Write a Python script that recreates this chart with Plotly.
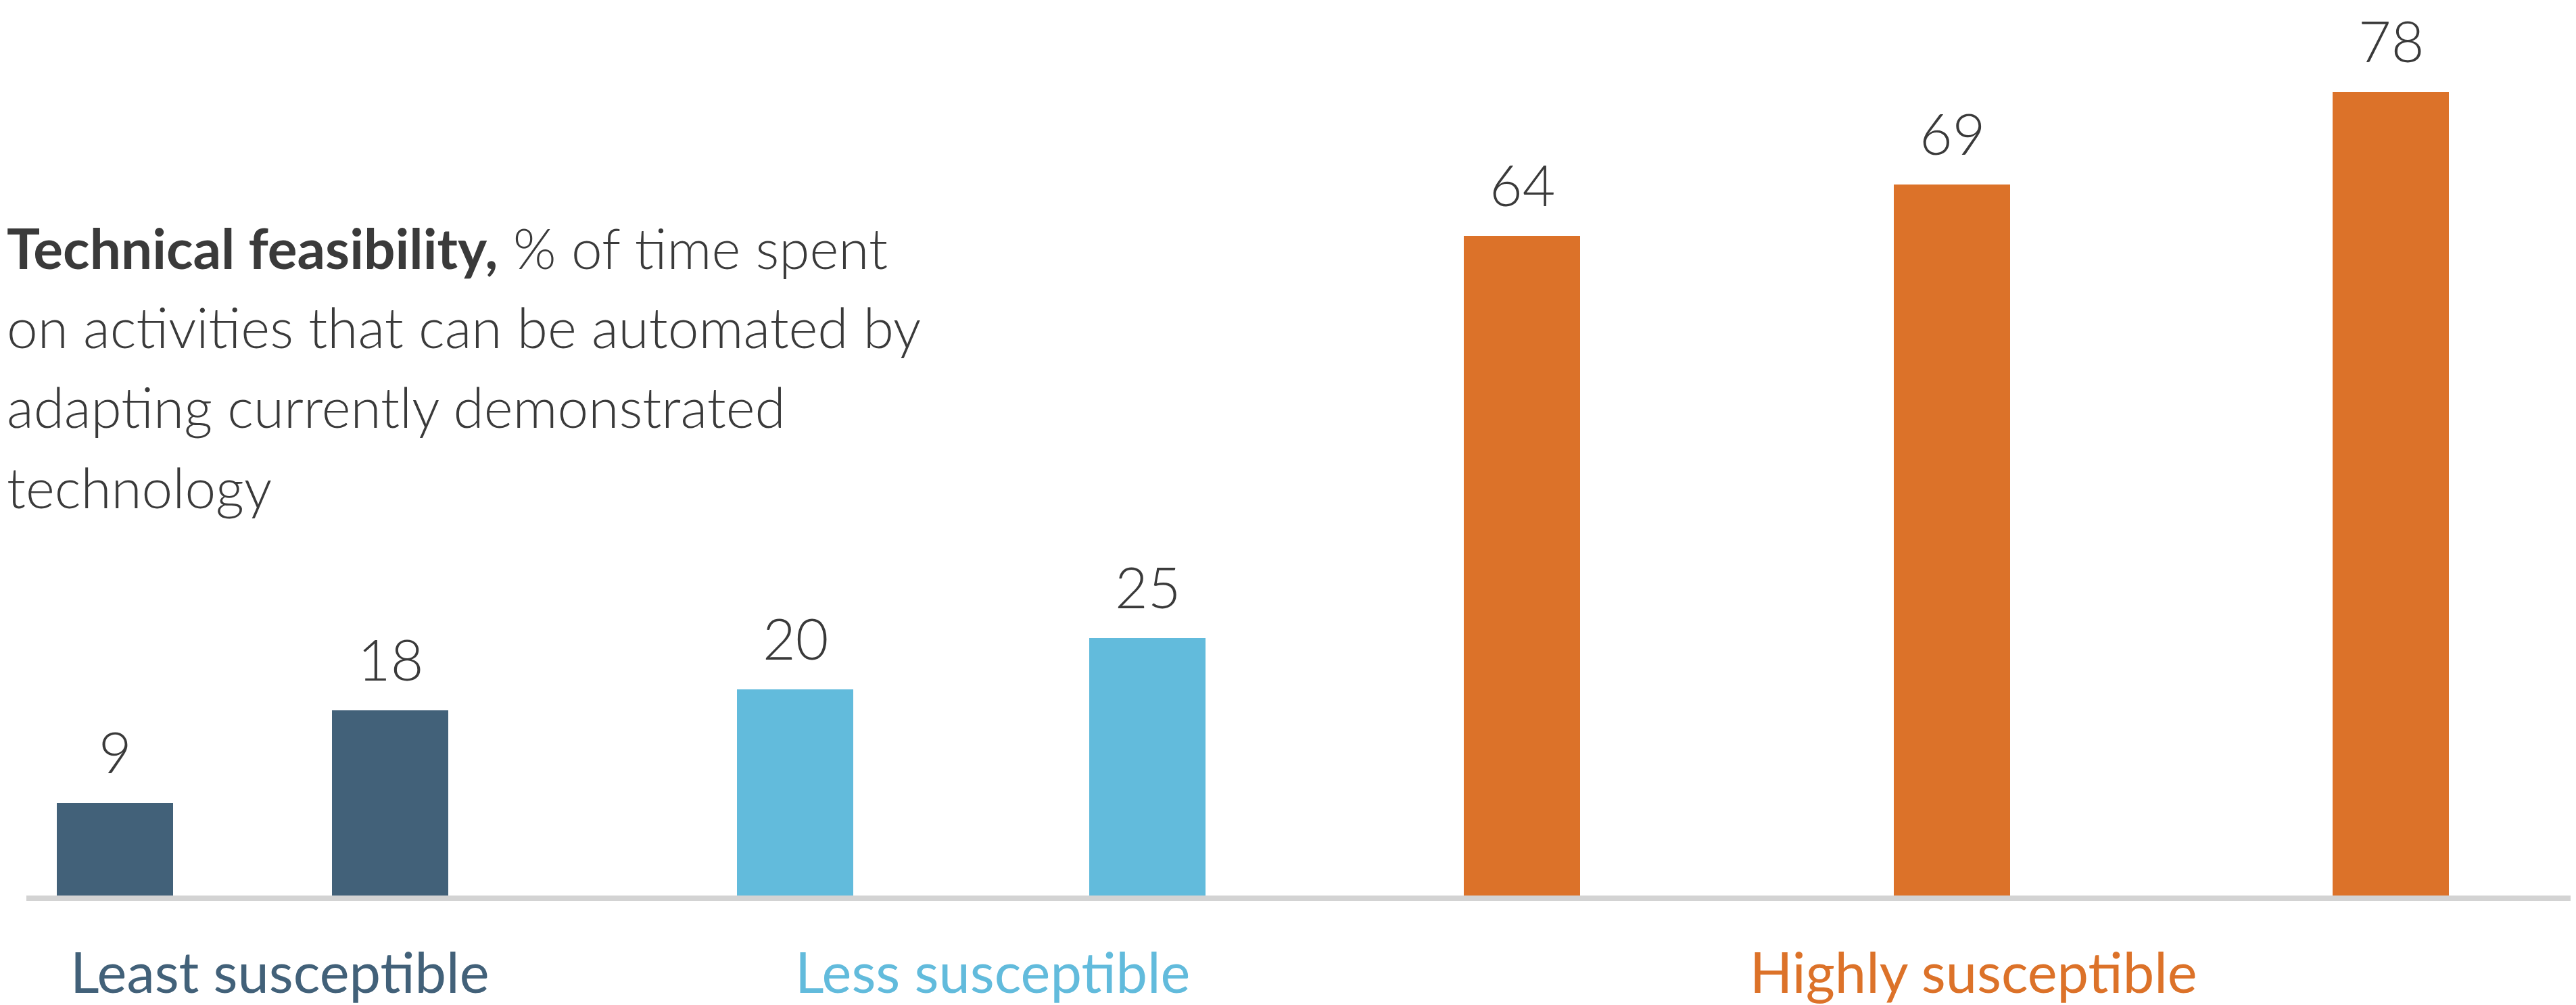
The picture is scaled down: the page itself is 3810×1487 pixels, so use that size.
import plotly.graph_objects as go

# ---- data ----
groups = ["Least susceptible", "Less susceptible", "Highly susceptible"]
bar_group = [0, 0, 1, 1, 2, 2, 2]
values = [9, 18, 20, 25, 64, 69, 78]
title_lines = [
    "<b>Technical feasibility,</b> % of time spent",
    "on activities that can be automated by",
    "adapting currently demonstrated",
    "technology",
]

# ---- layout / style (not data) ----
W, H = 3810, 1487
x_pos = [1.62, 5.69, 11.68, 16.89, 22.43, 28.79, 35.28]      # bar slots (hundreds of px)
group_label_x = [4.05, 14.60, 29.11]
bar_width = 1.72
group_colors = ["#426179", "#62bbdc", "#dc7229"]
label_color = "#3a3a3a"
FONT = "Lato"

fig = go.Figure()
fig.add_trace(go.Bar(
    x=x_pos, y=values, width=bar_width,
    marker=dict(color=[group_colors[g] for g in bar_group], line=dict(width=0)),
    hoverinfo="skip", showlegend=False,
))

annotations = []
for xp, v in zip(x_pos, values):
    annotations.append(dict(
        x=xp, y=v, xref="x", yref="y", text=str(v), showarrow=False,
        yanchor="bottom", xanchor="center", yshift=24,
        font=dict(family=FONT, size=84, color=label_color, weight=300),
    ))
for gi, (g, gx) in enumerate(zip(groups, group_label_x)):
    annotations.append(dict(
        x=gx, y=-0.085, xref="x", yref="paper", text=g, showarrow=False,
        yanchor="middle", xanchor="center",
        font=dict(family=FONT, size=83, color=group_colors[gi]),
    ))
title_y = [0.728, 0.639, 0.550, 0.459]
for line, ty in zip(title_lines, title_y):
    annotations.append(dict(
        x=0, y=ty, xref="paper", yref="paper", text=line, showarrow=False,
        xanchor="left", yanchor="middle", align="left",
        font=dict(family=FONT, size=82, color=label_color, weight=300),
    ))

fig.update_layout(
    width=W, height=H,
    margin=dict(l=0, r=0, t=0, b=H - 1317),
    paper_bgcolor="white", plot_bgcolor="white",
    xaxis=dict(range=[0.31, 38.10], domain=[31 / W, 1], showgrid=False, zeroline=False,
               showticklabels=False, ticks="", showline=True, linecolor="#d3d3d3",
               linewidth=8, fixedrange=True),
    yaxis=dict(range=[0, 1317 / 15.25], showgrid=False, zeroline=False,
               showticklabels=False, ticks="", showline=False, fixedrange=True),
    annotations=annotations,
    bargap=0,
)

fig.write_html("out.html")
